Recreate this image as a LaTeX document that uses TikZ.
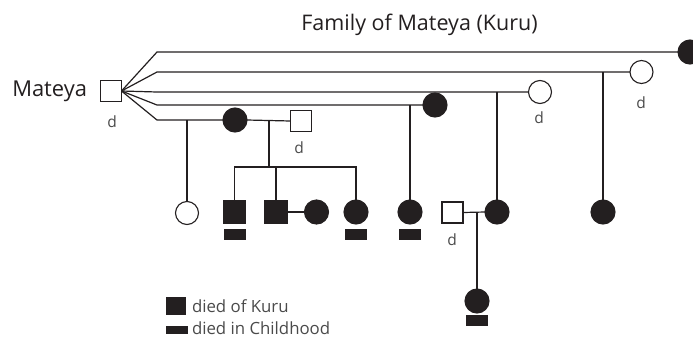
\documentclass[tikz,border=0pt]{standalone}
\usepackage{fontspec}
\setmainfont{Open Sans}
\begin{document}
\begin{tikzpicture}[x=1pt,y=-1pt,
  line width=1.2pt,
  every node/.style={inner sep=0pt,outer sep=0pt},
  ink/.style={draw=pedline},
  male/.style={rectangle,draw=pedline,fill=white,line width=1.1pt,minimum size=21pt},
  female/.style={circle,draw=pedline,fill=white,line width=1.1pt,minimum size=23pt},
  kurum/.style={male,fill=pedline,minimum size=22pt},
  kuruf/.style={female,fill=pedline,minimum size=24pt},
  childbar/.style={rectangle,fill=pedline,minimum width=22pt,minimum height=11pt},
  dlabel/.style={font=\fontsize{15.5}{15.5}\selectfont,text=labelgray},
  legendtext/.style={anchor=base west,font=\fontsize{16.8}{16.8}\selectfont,text=labelgray}
]
\definecolor{pedline}{HTML}{231F20}
\definecolor{labelgray}{HTML}{4A4A4A}
\useasboundingbox (0,0) rectangle (693,338);

% title
\node[anchor=base,font=\fontsize{21.5}{21.5}\selectfont,text=pedline] (title) at (419.5,30.5) {Family of Mateya (Kuru)};

% Mateya and his five wives
\node[male] (m) at (111,91) {};
\node[anchor=base east,font=\fontsize{21.9}{21.9}\selectfont,text=pedline] (mname) at (87,96.7) {Mateya};
\node[dlabel] (dm) at (112,122) {d};

\node[kuruf] (w1) at (690,52) {};
\node[female] (w2) at (641.5,72) {};
\node[dlabel] (dw2) at (641,103) {d};
\node[female] (w3) at (540,92) {};
\node[dlabel] (dw3) at (539,118) {d};
\node[kuruf] (w4) at (435,105) {};
\node[kuruf] (w5) at (235,120) {};
\node[male] (h5) at (301,121) {};
\node[dlabel] (dh5) at (299,148) {d};

\coordinate (b1) at (157,52);
\coordinate (b2) at (157,72);
\coordinate (b3) at (157,92);
\coordinate (b4) at (157,105);
\coordinate (b5) at (157,120);

\draw[ink] (m.east) -- (b1) -- (w1.west);
\draw[ink] (m.east) -- (b2) -- (w2.west);
\draw[ink] (m.east) -- (b3) -- (w3.west);
\draw[ink] (m.east) -- (b4) -- (w4.west);
\draw[ink] (m.east) -- (b5) -- (w5.west);
\draw[ink] (w5.east) -- (h5.west);

% children of the fifth wife by Mateya
\node[female] (c1) at (187,213) {};
\draw[ink] (c1.north) -- (c1.north |- b5);

% children of the fifth wife by her second husband
\node[kurum] (k1) at (234.5,212) {};
\node[childbar] (bk1) at (234.5,234.5) {};
\node[kurum] (k2) at (276,212) {};
\node[kuruf] (s2) at (316.5,212) {};
\node[kuruf] (k3) at (356,212) {};
\node[childbar] (bk3) at (356,234.5) {};
\coordinate (sib) at (269,167);
\draw[ink] (sib) -- (sib |- w5.east);
\draw[ink] (k1.north) |- (sib) -| (k3.north);
\draw[ink] (k2.north) -- (k2.north |- sib);
\draw[ink] (k2.east) -- (s2.west);

% child of the fourth wife
\node[kuruf] (k4) at (410,212) {};
\node[childbar] (bk4) at (410,234.5) {};
\draw[ink] (k4.north) -- (k4.north |- w4.west);

% child of the third wife, her husband and daughter
\node[kuruf] (k5) at (497,212) {};
\node[male] (s5) at (452.5,212.5) {};
\node[dlabel] (ds5) at (452,240) {d};
\draw[ink] (k5.north) -- (k5.north |- w3.west);
\draw[ink] (s5.east) -- (k5.west);
\coordinate (mar5) at (477,212.5);
\node[kuruf] (g1) at (477,301) {};
\node[childbar] (bg1) at (477,320.5) {};
\draw[ink] (mar5) -- (g1.north);

% child of the second wife
\node[kuruf] (k6) at (603,212) {};
\draw[ink] (k6.north) -- (k6.north |- w2.west);

% legend
\node[rectangle,fill=pedline,minimum width=20pt,minimum height=18pt] (lk) at (176,305.5) {};
\node[legendtext] (lkt) at (192,312) {died of Kuru};
\node[childbar,minimum height=8pt] (lc) at (177,329.5) {};
\node[legendtext] (lct) at (192,334.5) {died in Childhood};
\end{tikzpicture}
\end{document}
